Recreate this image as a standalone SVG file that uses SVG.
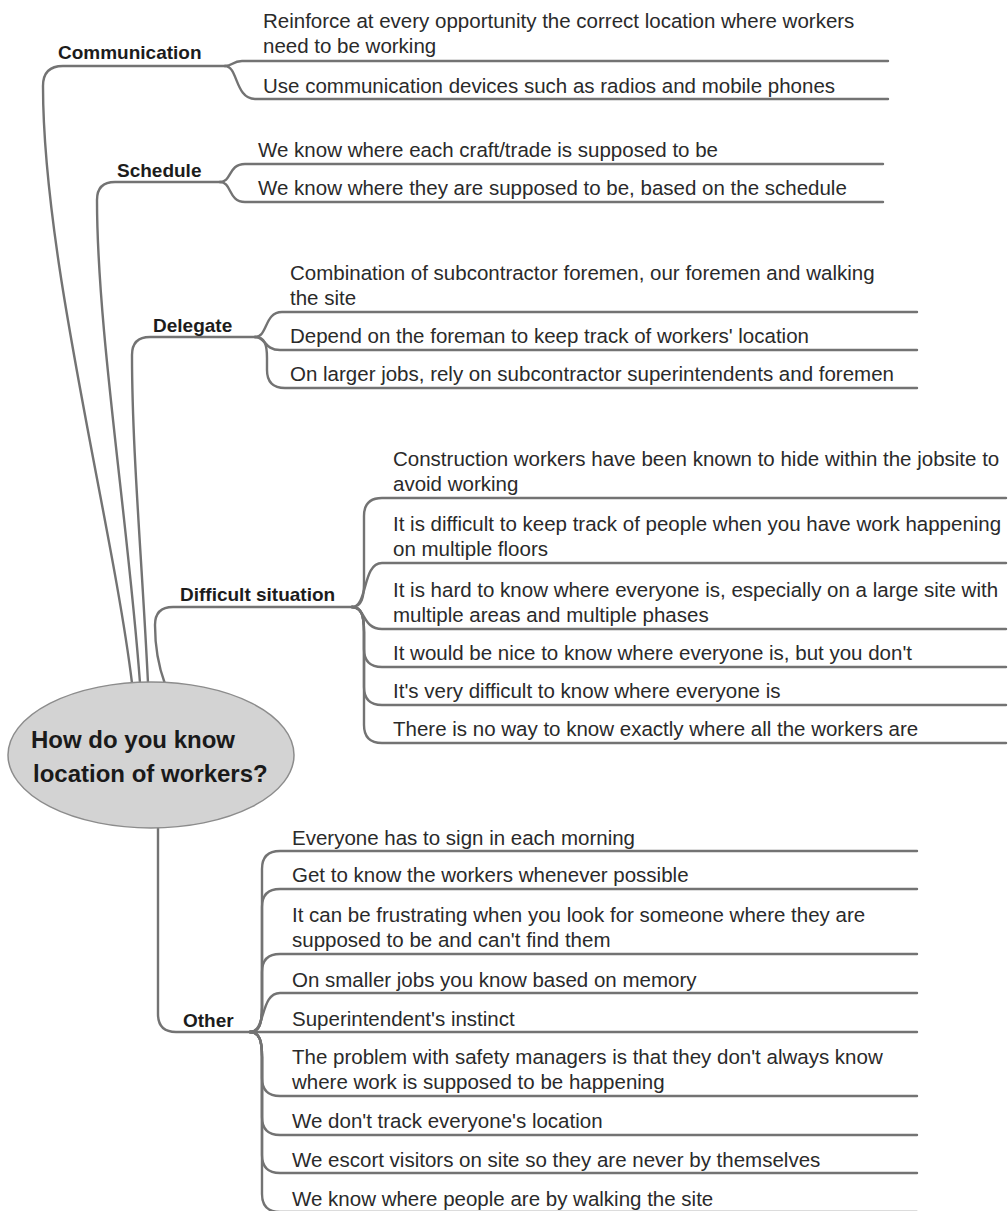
<svg xmlns="http://www.w3.org/2000/svg" width="1008" height="1211" viewBox="0 0 1008 1211">
<style>
.c{fill:none;stroke:#737373;stroke-width:2.4;stroke-linecap:round;stroke-linejoin:round}
.lbl{font-family:"Liberation Sans",Arial,sans-serif;font-weight:bold;font-size:19px;fill:#1c1c1c}
.t{font-family:"Liberation Sans",Arial,sans-serif;font-size:20.5px;fill:#2a2a2a}
.root{font-family:"Liberation Sans",Arial,sans-serif;font-weight:bold;font-size:24px;fill:#1a1a1a}
</style>
<rect width="1008" height="1211" fill="#ffffff"/>
<g id="connectors">
<!-- root to main topics -->
<path class="c" d="M132,683 C112,520 43,260 43,86 Q43,66 63,66 H225"/>
<path class="c" d="M140,683 C128,520 97,330 97,200 Q97,182 115,182 H220"/>
<path class="c" d="M148,683 C142,560 132,450 132,355 Q132,337 150,337 H255"/>
<path class="c" d="M165,684 C158,665 155,645 155,625 Q155,607 173,607 H352"/>
<path class="c" d="M158,828 L158,1014 Q158,1032 176,1032 H250"/>
<!-- Communication -->
<path class="c" d="M225,66 C233,66 232,61 242,61 H888"/>
<path class="c" d="M225,66 C238,66 235,99 255,99 H888"/>
<!-- Schedule -->
<path class="c" d="M220,182 C232,182 228,164 245,164 H883"/>
<path class="c" d="M220,182 C232,182 228,202 245,202 H883"/>
<!-- Delegate -->
<path class="c" d="M255,337 C268,337 264,312 282,312 H917"/>
<path class="c" d="M255,337 C266,337 264,350 280,350 H917"/>
<path class="c" d="M255,337 C265,337 267,345 267,358 L267,370 Q267,388 285,388 H917"/>
<!-- Difficult situation -->
<path class="c" d="M352,607 C362,607 364,597 364,582 L364,516 Q364,498 382,498 H1006"/>
<path class="c" d="M352,607 C368,607 362,563 382,563 H1006"/>
<path class="c" d="M352,607 C366,607 362,629 382,629 H1006"/>
<path class="c" d="M352,607 C362,607 364,617 364,632 L364,649 Q364,667 382,667 H1006"/>
<path class="c" d="M352,607 C362,607 364,617 364,632 L364,687 Q364,705 382,705 H1006"/>
<path class="c" d="M352,607 C362,607 364,617 364,632 L364,725 Q364,743 382,743 H1006"/>
<!-- Other -->
<path class="c" d="M250,1032 C260,1032 262,1022 262,1007 L262,869 Q262,851 280,851 H917"/>
<path class="c" d="M250,1032 C260,1032 262,1022 262,1007 L262,907 Q262,889 280,889 H917"/>
<path class="c" d="M250,1032 C260,1032 262,1022 262,1007 L262,972 Q262,954 280,954 H917"/>
<path class="c" d="M250,1032 C266,1032 260,993 280,993 H917"/>
<path class="c" d="M250,1032 H917"/>
<path class="c" d="M250,1032 C260,1032 262,1042 262,1057 L262,1078 Q262,1096 280,1096 H917"/>
<path class="c" d="M250,1032 C260,1032 262,1042 262,1057 L262,1117 Q262,1135 280,1135 H917"/>
<path class="c" d="M250,1032 C260,1032 262,1042 262,1057 L262,1155 Q262,1173 280,1173 H917"/>
<path class="c" d="M250,1032 C260,1032 262,1042 262,1057 L262,1194 Q262,1212 280,1212 H917"/>
</g>
<g id="node-root">
<ellipse cx="151" cy="755" rx="143" ry="73" fill="#d3d3d3" stroke="#8c8c8c" stroke-width="1.5"/>
<text class="root" x="31" y="748">How do you know</text>
<text class="root" x="33" y="782">location of workers?</text>
</g>
<g id="node-communication"><text class="lbl" x="58" y="59">Communication</text></g>
<g id="node-communication-1"><text class="t" x="263" y="28">Reinforce at every opportunity the correct location where workers<tspan x="263" dy="25">need to be working</tspan></text></g>
<g id="node-communication-2"><text class="t" x="263" y="93">Use communication devices such as radios and mobile phones</text></g>
<g id="node-schedule"><text class="lbl" x="117" y="177">Schedule</text></g>
<g id="node-schedule-1"><text class="t" x="258" y="157">We know where each craft/trade is supposed to be</text></g>
<g id="node-schedule-2"><text class="t" x="258" y="195">We know where they are supposed to be, based on the schedule</text></g>
<g id="node-delegate"><text class="lbl" x="153" y="332">Delegate</text></g>
<g id="node-delegate-1"><text class="t" x="290" y="280">Combination of subcontractor foremen, our foremen and walking<tspan x="290" dy="25">the site</tspan></text></g>
<g id="node-delegate-2"><text class="t" x="290" y="343">Depend on the foreman to keep track of workers' location</text></g>
<g id="node-delegate-3"><text class="t" x="290" y="381">On larger jobs, rely on subcontractor superintendents and foremen</text></g>
<g id="node-difficult"><text class="lbl" x="180" y="601">Difficult situation</text></g>
<g id="node-difficult-1"><text class="t" x="393" y="466">Construction workers have been known to hide within the jobsite to<tspan x="393" dy="25">avoid working</tspan></text></g>
<g id="node-difficult-2"><text class="t" x="393" y="531">It is difficult to keep track of people when you have work happening<tspan x="393" dy="25">on multiple floors</tspan></text></g>
<g id="node-difficult-3"><text class="t" x="393" y="597">It is hard to know where everyone is, especially on a large site with<tspan x="393" dy="25">multiple areas and multiple phases</tspan></text></g>
<g id="node-difficult-4"><text class="t" x="393" y="660">It would be nice to know where everyone is, but you don't</text></g>
<g id="node-difficult-5"><text class="t" x="393" y="698">It's very difficult to know where everyone is</text></g>
<g id="node-difficult-6"><text class="t" x="393" y="736">There is no way to know exactly where all the workers are</text></g>
<g id="node-other"><text class="lbl" x="183" y="1027">Other</text></g>
<g id="node-other-1"><text class="t" x="292" y="845">Everyone has to sign in each morning</text></g>
<g id="node-other-2"><text class="t" x="292" y="882">Get to know the workers whenever possible</text></g>
<g id="node-other-3"><text class="t" x="292" y="922">It can be frustrating when you look for someone where they are<tspan x="292" dy="25">supposed to be and can't find them</tspan></text></g>
<g id="node-other-4"><text class="t" x="292" y="987">On smaller jobs you know based on memory</text></g>
<g id="node-other-5"><text class="t" x="292" y="1026">Superintendent's instinct</text></g>
<g id="node-other-6"><text class="t" x="292" y="1064">The problem with safety managers is that they don't always know<tspan x="292" dy="25">where work is supposed to be happening</tspan></text></g>
<g id="node-other-7"><text class="t" x="292" y="1128">We don't track everyone's location</text></g>
<g id="node-other-8"><text class="t" x="292" y="1167">We escort visitors on site so they are never by themselves</text></g>
<g id="node-other-9"><text class="t" x="292" y="1206">We know where people are by walking the site</text></g>
</svg>
